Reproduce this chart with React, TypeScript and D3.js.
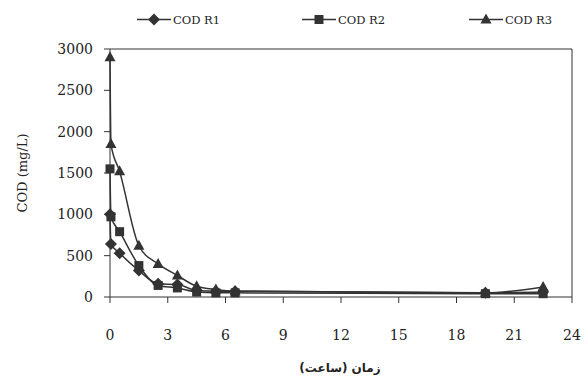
import React from "react";
import * as d3 from "d3";

const times = [0, 0.05, 0.5, 1.5, 2.5, 3.5, 4.5, 5.5, 6.5, 19.5, 22.5];
const codR1 = [1000, 640, 530, 320, 160, 150, 80, 70, 70, 50, 60];
const codR2 = [1550, 970, 790, 380, 140, 110, 60, 50, 50, 40, 40];
const codR3 = [2900, 1850, 1520, 620, 400, 260, 130, 90, 70, 50, 120];
const seriesNames = ["COD R1", "COD R2", "COD R3"];
const xTicks = [0, 3, 6, 9, 12, 15, 18, 21, 24];
const yTicks = [0, 500, 1000, 1500, 2000, 2500, 3000];
const xTitle = "زمان (ساعت)";
const yTitle = "COD (mg/L)";

const W = 586, H = 385;
const col = "#333";
const font = "'DejaVu Serif', 'Liberation Serif', serif";

function Marker({ kind, x, y }: { kind: number; x: number; y: number }) {
  if (kind === 0) {
    const r = 6;
    return <path d={`M${x},${y - r}L${x + r},${y}L${x},${y + r}L${x - r},${y}Z`} fill={col} />;
  }
  if (kind === 1) {
    const s = 9;
    return <rect x={x - s / 2} y={y - s / 2} width={s} height={s} fill={col} />;
  }
  const w = 11, h = 10;
  return <path d={`M${x},${y - h * 0.6}L${x + w / 2},${y + h * 0.4}L${x - w / 2},${y + h * 0.4}Z`} fill={col} />;
}

export default function App() {
  const x = d3.scaleLinear().domain([0, 24]).range([110, 572]);
  const y = d3.scaleLinear().domain([0, 3000]).range([297, 49]);
  const series = [codR1, codR2, codR3];
  const line = d3
    .line<[number, number]>()
    .x((d) => x(d[0]))
    .y((d) => y(d[1]))
    .curve(d3.curveMonotoneX);

  const legendX = [137, 302, 469];

  return (
    <svg width={W} height={H} style={{ position: "absolute", left: 0, top: 0, background: "#fff" }}>
      {/* frame */}
      <line x1={x(0)} x2={x(24)} y1={y(3000)} y2={y(3000)} stroke={col} strokeWidth={1} />
      <line x1={x(24)} x2={x(24)} y1={y(3000)} y2={y(0)} stroke={col} strokeWidth={1} />
      {/* axes */}
      <line x1={x(0)} x2={x(24)} y1={y(0)} y2={y(0)} stroke={col} strokeWidth={1} />
      <line x1={x(0)} x2={x(0)} y1={y(3000)} y2={y(0)} stroke={col} strokeWidth={1} />
      {xTicks.map((t) => (
        <g key={"xt" + t}>
          <line x1={x(t)} x2={x(t)} y1={y(0)} y2={y(0) + 6} stroke={col} />
          <text x={x(t)} y={340} textAnchor="middle" fontFamily={font} fontSize={14} fill="#222">
            {t}
          </text>
        </g>
      ))}
      {yTicks.map((t) => (
        <g key={"yt" + t}>
          <line x1={x(0) - 6} x2={x(0)} y1={y(t)} y2={y(t)} stroke={col} />
          <text x={93} y={y(t) + 5} textAnchor="end" fontFamily={font} fontSize={14} fill="#222">
            {t}
          </text>
        </g>
      ))}
      <text
        transform={`translate(27,${y(1500)}) rotate(-90)`}
        textAnchor="middle"
        fontFamily={font}
        fontSize={13}
        fill="#222"
      >
        {yTitle}
      </text>
      <text x={340} y={372} textAnchor="middle" fontFamily="'DejaVu Sans', sans-serif" fontWeight="bold" fontSize={12} fill="#222">
        {xTitle}
      </text>
      {/* series */}
      {series.map((vals, si) => {
        const pts: [number, number][] = times.map((t, i) => [t, vals[i]]);
        return (
          <g key={"s" + si}>
            <path d={line(pts) || ""} fill="none" stroke={col} strokeWidth={1.5} />
            {pts.map((p, i) => (
              <Marker key={i} kind={si} x={x(p[0])} y={y(p[1])} />
            ))}
          </g>
        );
      })}
      {/* legend */}
      {seriesNames.map((n, i) => (
        <g key={"lg" + i}>
          <line x1={legendX[i]} x2={legendX[i] + 34} y1={19.5} y2={19.5} stroke={col} strokeWidth={1.5} />
          <Marker kind={i} x={legendX[i] + 17} y={19.5} />
          <text x={legendX[i] + 36} y={24} fontFamily={font} fontSize={11.5} fill="#222">
            {n}
          </text>
        </g>
      ))}
    </svg>
  );
}
